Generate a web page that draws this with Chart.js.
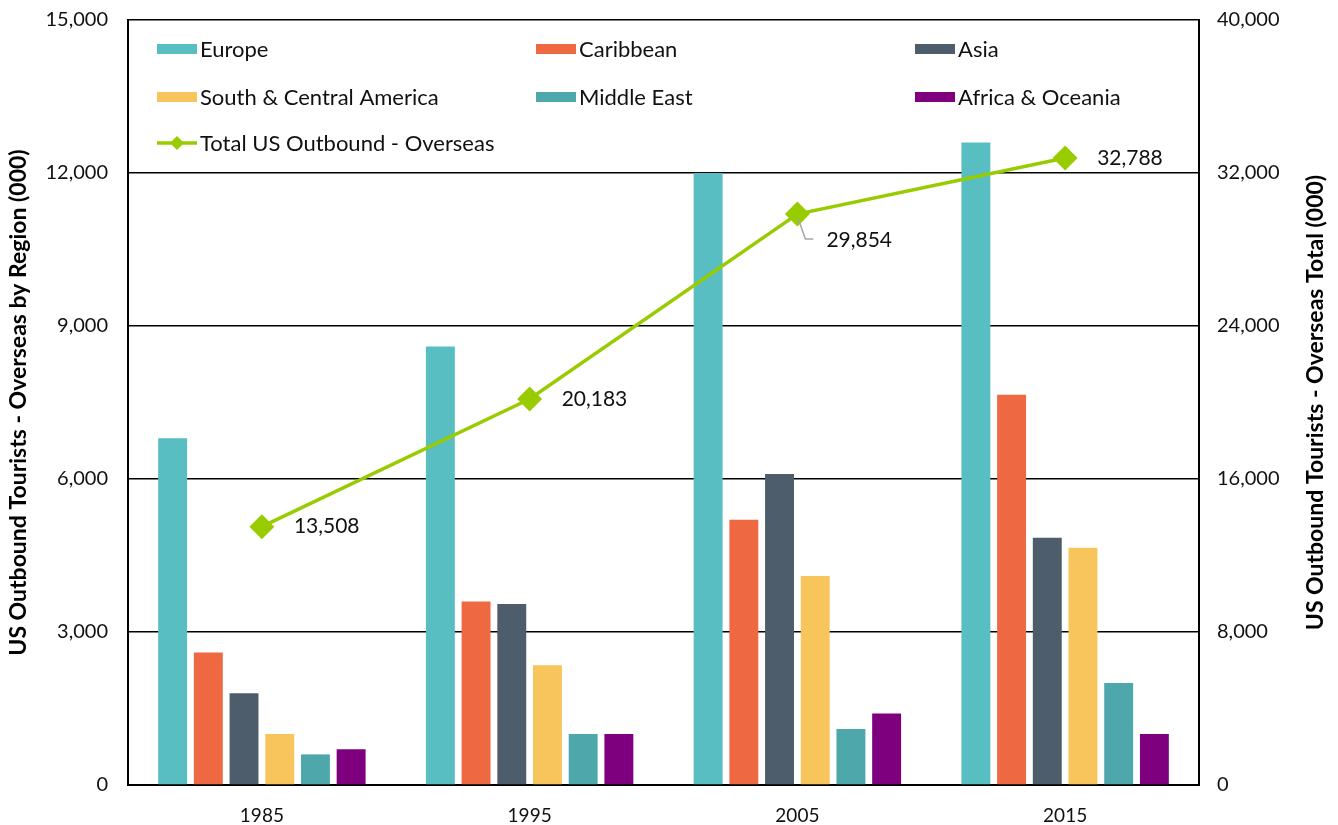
<!DOCTYPE html>
<html>
<head>
<meta charset="utf-8">
<script src="https://cdn.jsdelivr.net/npm/chart.js@4"></script>
<style>
  body { margin: 0; background: #fff; }
  canvas { display: block; }
</style>
</head>
<body>
<canvas id="graph" width="1338" height="825"></canvas>
<script>
const years = ['1985', '1995', '2005', '2015']

const europe = [6800, 8600, 12000, 12600]
const caribbean = [2600, 3600, 5200, 7650]
const asia = [1800, 3550, 6100, 4850]
const southCentral = [1000, 2350, 4100, 4650]
const middleEast = [600, 1000, 1100, 2000]
const africaOceania = [700, 1000, 1400, 1000]
const totalOverseas = [13508, 20183, 29854, 32788]

const FONT = 'Lato, "Open Sans", sans-serif'
const LINE_GREEN = '#99CC00'

const regions = [
  { label: 'Europe', data: europe, color: '#58BEC1' },
  { label: 'Caribbean', data: caribbean, color: '#EE6842' },
  { label: 'Asia', data: asia, color: '#4D5D6B' },
  { label: 'South & Central America', data: southCentral, color: '#F7C55C' },
  { label: 'Middle East', data: middleEast, color: '#4EA7AA' },
  { label: 'Africa & Oceania', data: africaOceania, color: '#7F007F' }
]

const datasets = regions.map(r => ({
  type: 'bar',
  label: r.label,
  data: r.data,
  backgroundColor: r.color,
  yAxisID: 'y',
  order: 1,
  categoryPercentage: 0.8,
  barPercentage: 0.81
}))

datasets.push({
  type: 'line',
  label: 'Total US Outbound - Overseas',
  data: totalOverseas,
  yAxisID: 'y1',
  order: 0,
  borderColor: LINE_GREEN,
  backgroundColor: LINE_GREEN,
  borderWidth: 3.5,
  pointStyle: 'rectRot',
  pointRadius: 10,
  pointHoverRadius: 10,
  tension: 0
})

// legend in three columns sitting inside the plot
const legendGrid = {
  id: 'legendGrid',
  afterDraw(chart) {
    const ctx = chart.ctx
    const cols = [157, 536, 915]
    const rows = [49, 97, 143]
    ctx.save()
    ctx.font = '22px ' + FONT
    ctx.textBaseline = 'middle'
    ctx.textAlign = 'left'
    regions.forEach((r, i) => {
      const x = cols[i % 3]
      const y = rows[Math.floor(i / 3)]
      ctx.fillStyle = r.color
      ctx.fillRect(x, y - 5, 40, 10)
      ctx.fillStyle = '#111'
      ctx.fillText(r.label, x + 43, y + 1)
    })
    const y = rows[2]
    ctx.strokeStyle = LINE_GREEN
    ctx.lineWidth = 3.5
    ctx.beginPath()
    ctx.moveTo(157, y)
    ctx.lineTo(197, y)
    ctx.stroke()
    ctx.fillStyle = LINE_GREEN
    ctx.beginPath()
    ctx.moveTo(177, y - 7)
    ctx.lineTo(184, y)
    ctx.lineTo(177, y + 7)
    ctx.lineTo(170, y)
    ctx.closePath()
    ctx.fill()
    ctx.fillStyle = '#111'
    ctx.fillText('Total US Outbound - Overseas', 200, y + 1)
    ctx.restore()
  }
}

// value labels next to the line points, 2005 gets a leader line
const lineLabels = {
  id: 'lineLabels',
  afterDatasetsDraw(chart) {
    const ctx = chart.ctx
    const idx = chart.data.datasets.length - 1
    const meta = chart.getDatasetMeta(idx)
    ctx.save()
    ctx.font = '21px ' + FONT
    ctx.fillStyle = '#111'
    ctx.textBaseline = 'middle'
    ctx.textAlign = 'left'
    meta.data.forEach((pt, i) => {
      const txt = totalOverseas[i].toLocaleString('en-US')
      if (i === 2) {
        ctx.strokeStyle = '#A6A6A6'
        ctx.lineWidth = 1.5
        ctx.beginPath()
        ctx.moveTo(pt.x + 1, pt.y + 5)
        ctx.lineTo(pt.x + 8, pt.y + 25)
        ctx.lineTo(pt.x + 16, pt.y + 25)
        ctx.stroke()
        ctx.fillText(txt, pt.x + 29, pt.y + 26)
      } else {
        ctx.fillText(txt, pt.x + 32, pt.y)
      }
    })
    ctx.restore()
  }
}

// rotated axis titles, both reading bottom to top
const axisTitles = {
  id: 'axisTitles',
  afterDraw(chart) {
    const ctx = chart.ctx
    const a = chart.chartArea
    const midY = (a.top + a.bottom) / 2
    ctx.save()
    ctx.font = 'bold 23px ' + FONT
    ctx.fillStyle = '#000'
    ctx.textAlign = 'center'
    ctx.textBaseline = 'middle'
    ;[[19, 'US Outbound Tourists - Overseas by Region (000)'],
      [1316, 'US Outbound Tourists - Overseas Total (000)']].forEach(([x, t]) => {
      ctx.save()
      ctx.translate(x, midY)
      ctx.rotate(-Math.PI / 2)
      ctx.fillText(t, 0, 0)
      ctx.restore()
    })
    ctx.restore()
  }
}

// fixed side widths; no extra room for the end tick labels
function fixSide(width) {
  return s => {
    s.width = width
    s.paddingTop = 0
    s.paddingBottom = 0
  }
}

Chart.defaults.font.family = FONT
Chart.defaults.color = '#111'

new Chart(document.querySelector('#graph'), {
  data: { labels: years, datasets: datasets },
  options: {
    responsive: false,
    animation: false,
    layout: { padding: { top: 20, left: 0, right: 0, bottom: 0 } },
    plugins: {
      legend: { display: false },
      tooltip: { enabled: false }
    },
    scales: {
      x: {
        grid: { display: false },
        border: { color: '#000', width: 2 },
        ticks: { font: { size: 19 }, padding: 11 },
        afterFit(s) { s.height = 40 }
      },
      y: {
        position: 'left',
        min: 0,
        max: 15000,
        ticks: { stepSize: 3000, font: { size: 20 }, padding: 20 },
        grid: { color: '#000', lineWidth: 1.4, drawTicks: false },
        border: { color: '#000', width: 2 },
        afterFit: fixSide(128)
      },
      y1: {
        position: 'right',
        min: 0,
        max: 40000,
        ticks: { stepSize: 8000, font: { size: 20 }, padding: 18 },
        grid: { display: false, drawTicks: false },
        border: { color: '#000', width: 2 },
        afterFit: fixSide(139)
      }
    }
  },
  plugins: [legendGrid, lineLabels, axisTitles]
})
</script>
</body>
</html>
